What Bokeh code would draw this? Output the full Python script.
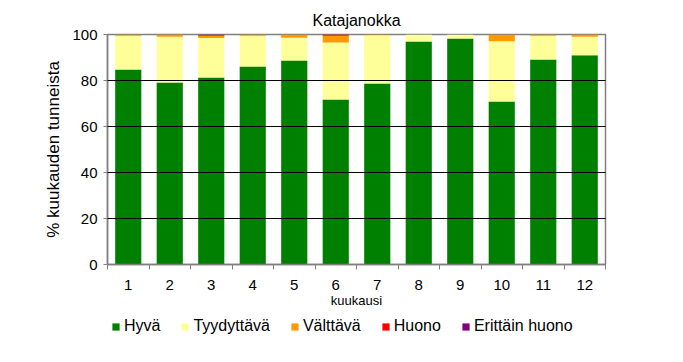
from bokeh.plotting import figure
from bokeh.layouts import column
from bokeh.models import FixedTicker, Legend, LegendItem, Range1d
from bokeh.embed import file_html
from bokeh.resources import INLINE

months = [1, 2, 3, 4, 5, 6, 7, 8, 9, 10, 11, 12]
month_labels = ["1", "2", "3", "4", "5", "6", "7", "8", "9", "10", "11", "12"]
hyva = [84.8, 79.1, 81.3, 86.1, 88.7, 71.7, 78.7, 97.0, 98.3, 70.9, 89.1, 91.0]
tyydyttava = [14.7, 19.9, 17.2, 13.4, 9.9, 24.8, 21.0, 3.0, 1.7, 26.2, 10.4, 8.0]
valttava = [0.5, 1.0, 1.0, 0.5, 1.4, 3.0, 0.3, 0.0, 0.0, 2.9, 0.5, 1.0]
huono = [0.0, 0.0, 0.4, 0.0, 0.0, 0.5, 0.0, 0.0, 0.0, 0.0, 0.0, 0.0]
erittain_huono = [0.0, 0.0, 0.1, 0.0, 0.0, 0.0, 0.0, 0.0, 0.0, 0.0, 0.0, 0.0]

series_names = ["Hyvä", "Tyydyttävä", "Välttävä", "Huono", "Erittäin huono"]
colors = ["#008000", "#FFFF99", "#FF9900", "#FF0000", "#800080"]
y_ticks = [0, 20, 40, 60, 80, 100]
grid_ticks = [20, 40, 60, 80]

FONT = "Liberation Sans"

data = dict(month=months, s0=hyva, s1=tyydyttava, s2=valttava, s3=huono, s4=erittain_huono)
keys = ["s0", "s1", "s2", "s3", "s4"]

p = figure(width=667, height=310, output_backend="svg", toolbar_location=None,
           x_range=Range1d(0.5, 12.5), y_range=Range1d(0, 100),
           title="Katajanokka",
           min_border_left=107, min_border_right=62, min_border_top=34, min_border_bottom=46)

renderers = p.vbar_stack(keys, x="month", width=0.63, color=colors, line_color=None, source=data)

p.title.align = "center"
p.title.text_font = FONT
p.title.text_font_size = "16px"
p.title.text_font_style = "normal"
p.title.text_color = "black"
p.title.standoff = 12

p.outline_line_color = "#808080"
p.outline_line_width = 1.5

p.xgrid.visible = False
p.ygrid.ticker = FixedTicker(ticks=grid_ticks)
p.ygrid.grid_line_color = "black"
p.ygrid.grid_line_width = 1
p.ygrid.level = "overlay"

xa = p.xaxis[0]
xa.ticker = FixedTicker(ticks=months, minor_ticks=[m - 0.5 for m in months] + [12.5])
xa.major_label_overrides = {m: l for m, l in zip(months, month_labels)}
xa.major_tick_line_color = None
xa.major_tick_out = 0
xa.major_tick_in = 0
xa.minor_tick_out = 5
xa.minor_tick_in = 0
xa.minor_tick_line_color = "#808080"
xa.axis_line_color = "#808080"
xa.axis_line_width = 1.5
xa.major_label_standoff = 10
xa.major_label_text_font = FONT
xa.major_label_text_font_size = "15px"
xa.major_label_text_color = "black"
xa.axis_label = "kuukausi"
xa.axis_label_text_font = FONT
xa.axis_label_text_font_size = "13px"
xa.axis_label_text_font_style = "normal"
xa.axis_label_text_color = "black"
xa.axis_label_standoff = 0

ya = p.yaxis[0]
ya.ticker = FixedTicker(ticks=y_ticks)
ya.major_tick_out = 4
ya.major_tick_in = 0
ya.minor_tick_line_color = None
ya.major_tick_line_color = "#808080"
ya.axis_line_color = "#808080"
ya.axis_line_width = 1.5
ya.major_label_standoff = 6
ya.major_label_text_font = FONT
ya.major_label_text_font_size = "15px"
ya.major_label_text_color = "black"
ya.axis_label = "% kuukauden tunneista"
ya.axis_label_text_font = FONT
ya.axis_label_text_font_size = "17px"
ya.axis_label_text_font_style = "normal"
ya.axis_label_text_color = "black"
ya.axis_label_standoff = 6

# Legend strip: same series, drawn out of view, only its legend is shown
lf = figure(width=667, height=36, output_backend="svg", toolbar_location=None,
            x_range=Range1d(0.5, 12.5), y_range=Range1d(1000, 1001),
            x_axis_location=None, y_axis_location=None,
            min_border_left=0, min_border_right=0, min_border_top=0, min_border_bottom=0)
lf.outline_line_color = None
lf.xgrid.visible = False
lf.ygrid.visible = False
lrs = lf.vbar_stack(keys, x="month", width=0.63, color=colors, line_color=None, source=data)

items = [LegendItem(label=n, renderers=[r]) for n, r in zip(series_names, lrs)]
legend = Legend(items=items, orientation="horizontal", location=(4, 11),
                glyph_width=9, glyph_height=9, label_standoff=4, spacing=20,
                padding=0, margin=0, border_line_color=None, background_fill_alpha=0,
                label_text_font=FONT, label_text_font_size="16px", label_text_color="black")
lf.add_layout(legend, "center")

open("out.html", "w").write(file_html(column(p, lf, spacing=0), INLINE))
